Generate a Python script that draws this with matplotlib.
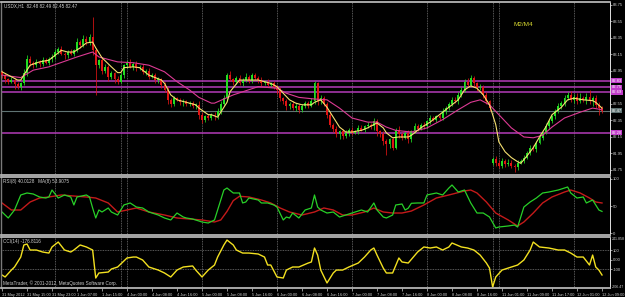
import numpy as np
import matplotlib.pyplot as plt

W, H = 625, 297

# ---- data (USDX H1, 31 May - 12 Jun 2012) ----
first_open = 82.94
closes = [
    82.90, 82.85, 82.82, 82.84, 82.79, 82.76, 82.80, 82.92, 83.10, 83.05,
    83.02, 83.06, 83.04, 83.08, 83.05, 83.10, 83.12, 83.18, 83.22, 83.16,
    83.14, 83.18, 83.16, 83.20, 83.30, 83.26, 83.34, 83.30, 83.36, 83.20,
    83.02, 83.08, 82.95, 83.00, 82.88, 82.92, 82.85, 82.82, 82.90, 83.02,
    83.05, 83.00, 83.04, 82.98, 83.00, 82.94, 82.95, 82.88, 82.90, 82.84,
    82.85, 82.78, 82.72, 82.60, 82.55, 82.62, 82.60, 82.57, 82.58, 82.55,
    82.56, 82.53, 82.54, 82.42, 82.36, 82.40, 82.38, 82.42, 82.40, 82.46,
    82.55, 82.62, 82.90, 82.85, 82.82, 82.86, 82.80, 82.84, 82.88, 82.83,
    82.90, 82.86, 82.84, 82.80, 82.82, 82.78, 82.80, 82.76, 82.72, 82.62,
    82.58, 82.52, 82.55, 82.50, 82.53, 82.48, 82.52, 82.56, 82.53, 82.58,
    82.80, 82.58, 82.62, 82.55, 82.42, 82.30, 82.25, 82.18, 82.22, 82.16,
    82.20, 82.24, 82.20, 82.22, 82.26, 82.24, 82.28, 82.30, 82.28, 82.34,
    82.22, 82.18, 82.10, 82.06, 82.12, 82.02, 82.24, 82.18, 82.14, 82.20,
    82.12, 82.22, 82.28, 82.25, 82.30, 82.28, 82.34, 82.38, 82.36, 82.40,
    82.38, 82.46, 82.50, 82.55, 82.60, 82.58, 82.66, 82.72, 82.82, 82.78,
    82.86, 82.80, 82.74, 82.76, 82.66, 82.58, 82.50, 81.88, 81.84, 81.80,
    81.86, 81.82, 81.84, 81.80, 81.78, 81.84, 81.86, 81.90, 81.96, 82.02,
    82.00, 82.08, 82.14, 82.20, 82.28, 82.34, 82.40, 82.46, 82.52, 82.56,
    82.62, 82.66, 82.60, 82.64, 82.58, 82.62, 82.60, 82.64, 82.58, 82.62,
    82.54, 82.50, 82.47,
]
gap_opens = {157: 81.84}
# wick lengths in pips (0.01)
upper_wick = [
    2, 3, 2, 4, 2, 3, 2, 5, 4, 3, 2, 3, 2, 4, 3, 2, 3, 4, 2, 3,
    2, 3, 4, 2, 5, 3, 4, 3, 4, 24, 3, 2, 4, 3, 2, 3, 2, 4, 3, 2,
    3, 4, 2, 3, 2, 3, 2, 4, 3, 2, 3, 2, 4, 3, 2, 3, 2, 2, 3, 2,
    3, 2, 2, 4, 3, 2, 3, 2, 3, 4, 3, 4, 3, 5, 2, 3, 4, 3, 4, 2,
    3, 2, 3, 4, 2, 3, 2, 3, 2, 3, 2, 3, 2, 4, 3, 2, 3, 2, 3, 4,
    3, 2, 4, 3, 2, 3, 2, 3, 2, 3, 3, 2, 3, 2, 4, 3, 2, 3, 2, 4,
    3, 2, 4, 3, 2, 3, 2, 4, 3, 2, 3, 2, 4, 3, 2, 3, 2, 4, 3, 2,
    3, 4, 3, 2, 4, 3, 3, 4, 3, 5, 4, 3, 2, 3, 2, 3, 2, 3, 4, 3,
    3, 2, 4, 3, 2, 3, 2, 3, 2, 3, 3, 2, 3, 2, 4, 3, 2, 3, 4, 3,
    4, 3, 5, 3, 4, 6, 3, 4, 8, 3, 4, 3, 2,
]
lower_wick = [
    3, 4, 3, 2, 6, 3, 4, 2, 3, 4, 3, 2, 4, 3, 2, 3, 4, 2, 3, 2,
    4, 3, 2, 3, 2, 3, 2, 4, 3, 6, 36, 3, 4, 2, 5, 3, 4, 3, 2, 4,
    3, 2, 4, 3, 2, 3, 4, 3, 2, 4, 3, 4, 3, 5, 4, 3, 2, 3, 4, 3,
    2, 3, 4, 5, 4, 3, 2, 3, 4, 3, 3, 2, 3, 2, 4, 3, 2, 3, 2, 3,
    3, 2, 4, 3, 2, 3, 2, 3, 5, 4, 3, 4, 3, 2, 3, 4, 3, 2, 3, 2,
    3, 4, 3, 2, 4, 3, 4, 3, 5, 3, 2, 4, 3, 2, 3, 2, 3, 2, 3, 4,
    6, 3, 5, 13, 4, 3, 2, 4, 3, 2, 4, 3, 2, 3, 2, 3, 2, 3, 2, 3,
    3, 2, 3, 2, 3, 2, 3, 2, 3, 2, 3, 4, 3, 2, 4, 3, 4, 3, 4, 3,
    3, 4, 2, 3, 5, 3, 2, 3, 2, 3, 2, 3, 2, 3, 2, 3, 2, 3, 2, 3,
    3, 2, 3, 4, 3, 2, 3, 5, 3, 6, 4, 8, 3,
]

fast_ma_bars = [0, 5, 6, 9, 12, 15, 17, 19, 21, 23, 25, 27, 29, 30, 32, 35, 37, 38, 39, 42,
                44, 47, 51, 52, 54, 56, 59, 62, 63, 66, 67, 69, 70, 72, 73, 76, 79, 82, 84, 86,
                88, 90, 92, 94, 96, 99, 100, 102, 104, 106, 108, 110, 112, 115, 117, 119, 120, 122, 123, 125,
                127, 130, 131, 134, 137, 141, 144, 146, 148, 150, 152, 154, 156, 158, 159, 161, 163, 165, 166, 168,
                170, 172, 174, 176, 179, 181, 183, 186, 189, 190, 192]
fast_ma = [82.94, 82.84, 82.84, 83.02, 83.06, 83.08, 83.14, 83.20, 83.18, 83.18, 83.23, 83.29, 83.30, 83.23, 83.11, 83.00, 82.93, 82.93, 82.99, 83.00,
           82.99, 82.90, 82.84, 82.80, 82.66, 82.60, 82.57, 82.54, 82.50, 82.42, 82.42, 82.39, 82.45, 82.57, 82.70, 82.84, 82.84, 82.84, 82.82, 82.80,
           82.76, 82.68, 82.60, 82.56, 82.54, 82.54, 82.57, 82.60, 82.51, 82.39, 82.27, 82.21, 82.21, 82.23, 82.26, 82.30, 82.32, 82.26, 82.20, 82.14,
           82.15, 82.15, 82.17, 82.26, 82.33, 82.45, 82.54, 82.60, 82.72, 82.77, 82.74, 82.66, 82.54, 82.30, 82.09, 81.97, 81.90, 81.85, 81.83, 81.92,
           82.02, 82.15, 82.27, 82.42, 82.51, 82.60, 82.62, 82.60, 82.59, 82.57, 82.50]

slow_ma_bars = [0, 6, 10, 15, 21, 24, 29, 31, 37, 42, 47, 52, 56, 60, 63, 67, 68, 74, 82, 88,
                91, 95, 100, 104, 108, 112, 117, 120, 123, 126, 131, 136, 141, 146, 150, 153, 156, 159, 163, 167,
                170, 173, 176, 180, 185, 189, 192]
slow_ma = [82.90, 82.87, 82.96, 83.00, 83.08, 83.12, 83.18, 83.12, 83.06, 83.05, 83.02, 82.94, 82.82, 82.72, 82.63, 82.56, 82.56, 82.66, 82.76, 82.74,
           82.68, 82.63, 82.61, 82.60, 82.50, 82.38, 82.33, 82.33, 82.27, 82.23, 82.21, 82.26, 82.36, 82.48, 82.57, 82.60, 82.54, 82.42, 82.26, 82.15,
           82.14, 82.17, 82.27, 82.38, 82.45, 82.50, 82.48]

levels_magenta = [82.83, 82.75, 82.69, 82.20]
bid = 82.47

rsi_bars = [0, 2, 4, 6, 8, 10, 12, 14, 15, 16, 18, 20, 22, 23, 24, 27, 28, 29, 30, 31,
            32, 34, 35, 37, 39, 41, 43, 45, 47, 50, 52, 54, 56, 58, 59, 61, 64, 66, 68, 69,
            71, 72, 74, 76, 77, 78, 79, 82, 83, 85, 87, 88, 90, 91, 92, 93, 95, 97, 99, 100,
            101, 102, 104, 106, 108, 110, 112, 115, 117, 119, 120, 122, 123, 125, 126, 128, 129, 130, 131, 133,
            135, 136, 139, 141, 143, 144, 146, 148, 150, 152, 154, 156, 158, 159, 162, 164, 165, 166, 167, 169,
            171, 173, 175, 178, 180, 181, 182, 184, 186, 187, 189, 191, 192]
rsi = [38.9, 27.8, 42.6, 70.4, 74.1, 72.2, 66.7, 64.8, 66.7, 79.6, 64.8, 70.4, 66.7, 51.9, 66.7, 70.4, 66.7, 46.3, 27.8, 42.6,
       38.9, 46.3, 38.9, 33.3, 51.9, 55.6, 48.1, 46.3, 38.9, 33.3, 27.8, 24.1, 37.0, 29.6, 27.8, 25.9, 20.4, 18.5, 24.1, 42.6,
       79.6, 83.3, 74.1, 74.1, 55.6, 57.4, 64.8, 61.1, 55.6, 55.6, 51.9, 48.1, 24.1, 29.6, 27.8, 37.0, 27.8, 42.6, 46.3, 70.4,
       48.1, 42.6, 37.0, 38.9, 29.6, 33.3, 37.0, 42.6, 38.9, 55.6, 42.6, 29.6, 27.8, 33.3, 51.9, 53.7, 42.6, 46.0, 55.0, 55.6,
       55.6, 70.4, 74.1, 70.4, 83.3, 88.9, 75.9, 79.6, 55.6, 37.0, 37.0, 29.6, 9.3, 11.1, 13.0, 14.8, 11.1, 29.6, 48.1, 57.4,
       64.8, 74.1, 75.9, 79.6, 83.3, 85.2, 74.1, 64.8, 66.7, 55.6, 61.1, 42.6, 40.0]

rsi_ma_bars = [0, 3, 6, 9, 12, 15, 19, 23, 27, 30, 34, 37, 40, 43, 47, 52, 56, 60, 64, 68,
               70, 72, 74, 76, 79, 83, 86, 89, 92, 96, 100, 103, 106, 109, 112, 116, 119, 122, 125, 128,
               131, 135, 139, 143, 148, 150, 152, 155, 158, 162, 165, 167, 170, 173, 176, 180, 182, 185, 188, 190,
               192]
rsi_ma = [55.6, 42.6, 42.6, 57.4, 64.8, 66.7, 70.4, 68.5, 66.7, 64.8, 55.6, 38.9, 42.6, 46.3, 38.9, 33.3, 27.8, 25.9, 24.1, 20.4,
          24.1, 40.0, 60.0, 68.0, 66.7, 61.1, 55.6, 46.3, 38.9, 33.3, 38.9, 46.3, 42.6, 33.3, 33.3, 38.9, 46.3, 38.9, 37.0, 37.0,
          40.7, 51.9, 64.8, 70.4, 77.8, 79.6, 74.1, 57.4, 37.0, 24.1, 13.0, 20.4, 37.0, 55.6, 66.7, 75.9, 79.6, 74.1, 64.8, 57.4,
          55.6]

cci_bars = [0, 1, 3, 4, 6, 7, 8, 9, 11, 13, 15, 16, 18, 20, 22, 23, 25, 27, 29, 30,
            31, 34, 35, 37, 40, 42, 43, 45, 47, 50, 52, 54, 56, 58, 61, 62, 64, 66, 68, 69,
            71, 72, 74, 75, 77, 79, 82, 84, 85, 86, 88, 90, 91, 93, 95, 98, 99, 100, 101, 102,
            104, 106, 107, 109, 111, 114, 116, 118, 119, 120, 122, 123, 125, 127, 128, 130, 133, 135, 137, 139,
            141, 143, 144, 147, 149, 151, 153, 155, 156, 157, 158, 160, 163, 165, 167, 169, 170, 172, 175, 178,
            180, 182, 184, 186, 188, 189, 190, 191, 192]
cci = [-163, -184, -111, -79, 26, 153, 163, 100, 100, 79, 68, 132, 184, 100, 79, 100, 153, 132, 100, -195,
       -142, -132, -100, -79, 16, 26, 26, -5, -79, -111, -142, -184, -111, -79, -68, -111, -184, -111, -58, 26,
       153, 205, 153, 100, 68, 68, 58, 26, -58, -58, -184, -195, -111, -79, -79, -37, -26, 121, 47, -111,
       -247, -142, -111, -111, -79, -37, 26, 100, 121, 47, -90, -142, -142, 16, -26, -37, 79, 132, 121, 132,
       100, 132, 174, 132, 121, 100, 47, -37, -90, -290, -184, -111, -79, -58, -5, 100, 184, 132, 121, 100,
       100, 68, 26, 26, -58, 47, -79, -111, -163]

day_separators = [17, 38, 40, 64, 88, 112, 136, 157, 159, 183]
time_label_bars = list(range(0, 193, 8))
time_labels = ["31 May 2012", "31 May 15:00", "31 May 23:00", "1 Jun 07:00", "1 Jun 15:00",
               "4 Jun 00:00", "4 Jun 08:00", "4 Jun 16:00", "5 Jun 00:00", "5 Jun 08:00",
               "5 Jun 16:00", "6 Jun 00:00", "6 Jun 08:00", "6 Jun 16:00", "7 Jun 00:00",
               "7 Jun 08:00", "7 Jun 16:00", "8 Jun 00:00", "8 Jun 08:00", "8 Jun 16:00",
               "11 Jun 01:00", "11 Jun 09:00", "11 Jun 17:00", "12 Jun 01:00", "12 Jun 09:00"]
price_ticks = [83.75, 83.55, 83.35, 83.15, 82.95, 82.55, 82.35, 82.15, 81.95, 81.75]

# ---- styling ----
plt.rcParams['font.family'] = ['Liberation Sans', 'DejaVu Sans']
BG = 'black'
FG = '#d0d0d0'
GRID = '#8c8c8c'
FS = 3.3     # panel texts
FS_R = 3.0   # right scale
FS_B = 2.75  # time scale


def px_box(x0, y0, x1, y1):
    return [x0 / W, 1 - y1 / H, (x1 - x0) / W, (y1 - y0) / H]


def px_text(x, y, s, **kw):
    fig.text(x / W, 1 - y / H, s, fontsize=kw.pop('fontsize', FS),
             color=kw.pop('color', FG), va=kw.pop('va', 'center'), **kw)


fig = plt.figure(figsize=(W / 100, H / 100), dpi=100, facecolor=BG)
ax_main = fig.add_axes(px_box(1, 2, 610, 175))
ax_rsi = fig.add_axes(px_box(1, 177, 610, 235))
ax_cci = fig.add_axes(px_box(1, 237, 610, 288))

for ax in (ax_main, ax_rsi, ax_cci):
    ax.set_facecolor(BG)
    ax.set_xlim(-0.32, 194.56)
    for b in day_separators:
        ax.axvline(b, color=GRID, lw=0.5, ls=(0, (1.2, 1.2)), zorder=0)
    for side in ('top', 'bottom'):
        ax.spines[side].set_color('#b4b4b4')
        ax.spines[side].set_linewidth(1.3)
    ax.spines['left'].set_color('#7a7a7a')
    ax.spines['left'].set_linewidth(1.0)
    ax.spines['right'].set_color('#e0e0e0')
    ax.spines['right'].set_linewidth(0.7)
    ax.yaxis.tick_right()
    ax.tick_params(axis='y', colors=FG, labelsize=FS_R, length=1.5, width=0.5, pad=0.8)
    ax.tick_params(axis='x', colors=FG)

ax_main.set_xticks([])
ax_rsi.set_xticks([])

# ---- candles ----
bars = np.arange(len(closes))
c = np.array(closes)
o = np.r_[first_open, c[:-1]]
for k, v in gap_opens.items():
    o[k] = v
top = np.maximum(o, c)
bot = np.minimum(o, c)
hi = top + np.array(upper_wick) / 100
lo = bot - np.array(lower_wick) / 100
cols = np.where(c >= o, '#22dd22', '#e01414')
ax_main.vlines(bars, lo, hi, colors=cols, lw=0.55, zorder=2)
ax_main.bar(bars, np.maximum(top - bot, 0.006), bottom=bot, width=0.62,
            color=cols, linewidth=0, zorder=3)

for lv in levels_magenta:
    ax_main.axhline(lv, color='#b43cb8', lw=1.1, zorder=1)
ax_main.axhline(bid, color='#5f7373', lw=0.8, zorder=1)

ax_main.plot(slow_ma_bars, slow_ma, color='#dc3a94', lw=0.8, zorder=4)
ax_main.plot(fast_ma_bars, fast_ma, color='#f5e070', lw=0.8, zorder=5)

ax_main.set_ylim(81.689, 83.786)
ax_main.set_yticks(price_ticks)
ax_main.set_yticklabels([f'{p:.2f}' for p in price_ticks])

# price boxes on the right scale
for lv in levels_magenta:
    ax_main.text(1.003, lv, f'{lv:.2f}', transform=ax_main.get_yaxis_transform(),
                 fontsize=FS_R, color='white', va='center', ha='left',
                 bbox=dict(boxstyle='square,pad=0.12', fc='#c03cc8', ec='none'))
ax_main.text(1.003, bid, f'{bid:.2f}', transform=ax_main.get_yaxis_transform(),
             fontsize=FS_R, color='white', va='center', ha='left',
             bbox=dict(boxstyle='square,pad=0.12', fc='#5f7373', ec='none'))

# ---- RSI ----
ax_rsi.plot(rsi_ma_bars, rsi_ma, color='#c41a1a', lw=1.0)
ax_rsi.plot(rsi_bars, rsi, color='#28d028', lw=0.9)
ax_rsi.set_ylim(-3.7, 103.7)
ax_rsi.set_yticks([100, 50, 0])
ax_rsi.set_yticklabels(['100', '50', '0'])

# ---- CCI ----
for lv in (100, -100):
    ax_cci.axhline(lv, color=GRID, lw=0.5, ls=(0, (1.2, 1.2)), zorder=0)
ax_cci.plot(cci_bars, cci, color='#f2e020', lw=1.0)
ax_cci.set_ylim(-300, 237)
ax_cci.set_yticks([100, 0, -100])
ax_cci.set_yticklabels(['100', '0.00', '-100'])
ax_cci.set_xticks(time_label_bars)
ax_cci.set_xticklabels(time_labels, ha='left')
ax_cci.tick_params(axis='x', colors=FG, labelsize=FS_B, length=2.5, width=0.5, pad=1)

# ---- texts ----
px_text(4, 6, 'USDX,H1  82.48 82.49 82.45 82.47')
px_text(513, 24, 'M2/M4', fontsize=4.6, color='#d8d830')
px_text(3, 181, 'RSI(8) 40.0128   MA(8) 53.9075')
px_text(3, 241, 'CCI(14) -176.8116')
px_text(3, 283, 'MetaTrader, \u00a9 2001-2012, MetaQuotes Software Corp.')
px_text(611.5, 239, '241.858', fontsize=2.6)
px_text(611.5, 287, '-206.47', fontsize=2.6)

fig.savefig('out.png', dpi=100, facecolor=BG)
